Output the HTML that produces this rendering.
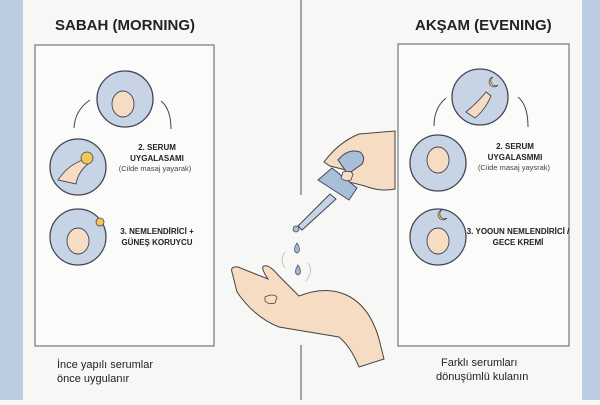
<!DOCTYPE html>
<html><head><style>
body{margin:0;width:600px;height:400px;overflow:hidden;background:#f7f7f6;font-family:"Liberation Sans",sans-serif;}
</style></head><body>
<svg width="600" height="400" viewBox="0 0 600 400" xmlns="http://www.w3.org/2000/svg" font-family="Liberation Sans, sans-serif">
<rect x="0" y="0" width="23" height="400" fill="#bccde2"/>
<rect x="582" y="0" width="18" height="400" fill="#bccde2"/>
<line x1="301" y1="0" x2="301" y2="195" stroke="#888" stroke-width="1.5"/>
<line x1="301" y1="345" x2="301" y2="400" stroke="#888" stroke-width="1.5"/>
<text x="55" y="30" font-size="15" font-weight="bold" fill="#222">SABAH (MORNING)</text>
<text x="415" y="30" font-size="15" font-weight="bold" fill="#222">AKŞAM (EVENING)</text>
<rect x="35" y="45" width="179" height="301" fill="#fbfbfa" stroke="#777" stroke-width="1.2"/>
<rect x="398" y="44" width="171" height="302" fill="#fbfbfa" stroke="#777" stroke-width="1.2"/>
<g fill="#c6d4e6" stroke="#445" stroke-width="1.3">
<circle cx="125" cy="99" r="28"/><circle cx="78" cy="167" r="28"/><circle cx="78" cy="237" r="28"/>
<circle cx="480" cy="97" r="28"/><circle cx="438" cy="163" r="28"/><circle cx="438" cy="237" r="28"/>
</g>
<g fill="#f6dcc2" stroke="#445" stroke-width="0.9">
<ellipse cx="123" cy="104" rx="11" ry="13"/><ellipse cx="78" cy="241" rx="11" ry="13"/>
<ellipse cx="438" cy="160" rx="11" ry="13"/><ellipse cx="438" cy="241" rx="11" ry="13"/>
<path d="M58 180 q10 -15 25 -20 l5 4 q-10 8 -12 20z"/>
<path d="M466 112 q12 -10 20 -20 l5 4 q-6 14 -16 22z"/>
</g>
<circle cx="87" cy="158" r="6" fill="#f2c75a" stroke="#445" stroke-width="0.8"/>
<circle cx="100" cy="222" r="4" fill="#f2c75a" stroke="#445" stroke-width="0.8"/>
<path d="M442 210 a5 5 0 1 0 5 8 a4 4 0 1 1 -5 -8z" fill="#f2c75a" stroke="#445" stroke-width="0.7"/>
<path d="M493 77 a5 5 0 1 0 5 8 a4 4 0 1 1 -5 -8z" fill="#f2c75a" stroke="#445" stroke-width="0.7"/>
<g fill="none" stroke="#444" stroke-width="1">
<path d="M90 100 q-15 10 -16 28"/><path d="M161 101 q10 8 10 28"/>
<path d="M446 98 q-12 10 -12 28"/><path d="M518 97 q10 8 10 30"/>
</g>
<g font-size="8" fill="#222" text-anchor="middle">
<text x="157" y="150" font-weight="bold">2. SERUM</text>
<text x="157" y="161" font-weight="bold">UYGALASAMI</text>
<text x="155" y="171" font-size="7.5" fill="#444">(Cilde masaj yayarak)</text>
<text x="157" y="234" font-weight="bold">3. NEMLENDİRİCİ +</text>
<text x="157" y="245" font-weight="bold">GÜNEŞ KORUYCU</text>
<text x="515" y="149" font-weight="bold">2. SERUM</text>
<text x="515" y="160" font-weight="bold">UYGALASMMI</text>
<text x="514" y="170" font-size="7.5" fill="#444">(Ciide masaj yaysrak)</text>
<text x="518" y="234" font-weight="bold">3. YOOUN NEMLENDİRİCİ /</text>
<text x="518" y="245" font-weight="bold">GECE KREMİ</text>
</g>
<g font-size="11" fill="#222">
<text x="57" y="368">İnce yapılı serumlar</text>
<text x="57" y="382">önce uygulanır</text>
<text x="441" y="366">Farklı serumları</text>
<text x="436" y="380">dönuşümlü kulanın</text>
</g>
<!-- upper hand -->
<path d="M324 162 q15 -20 35 -28 l36 -3 l0 58 q-15 3 -30 -3 l-20 -5 q-5 -8 5 -10 l-20 -5z" fill="#f6dcc2" stroke="#444" stroke-width="1"/>
<path d="M338 160 q10 -12 22 -8 q6 5 2 12 l-14 10z" fill="#a9bfd9" stroke="#445" stroke-width="1"/>
<path d="M318 180 l14 -12 l25 20 l-8 12 z" fill="#a9bfd9" stroke="#445" stroke-width="1"/>
<path d="M343 172 q8 -2 10 2 l-2 6 q-6 2 -10 -2z" fill="#f6dcc2" stroke="#444" stroke-width="0.8"/>
<path d="M330 194 l-32 32 l4 4 l34 -31z" fill="#c6d4e6" stroke="#445" stroke-width="1"/>
<circle cx="296" cy="229" r="3" fill="#a9bfd9" stroke="#445" stroke-width="0.8"/>
<g fill="#9fb8d6" stroke="#556" stroke-width="0.8">
<path d="M297 243 q-5 8 0 10 q5 -2 0 -10z"/><path d="M298 265 q-5 8 0 10 q5 -2 0 -10z"/>
</g>
<path d="M285 252 q-6 8 0 16 M308 263 q6 8 -2 18" fill="none" stroke="#bbb" stroke-width="0.8"/>
<!-- lower hand -->
<path d="M232 272 q-2 -6 6 -5 l30 12 q-8 -12 -4 -13 q5 -2 15 10 l20 20 q25 -10 45 -2 q25 10 35 45 l5 20 l-25 8 q-8 -20 -20 -30 q-30 -5 -60 -10 q-25 -10 -42 -35z" fill="#f6dcc2" stroke="#444" stroke-width="1"/>
<path d="M265 297 q8 -4 12 0 l-2 6 q-6 2 -10 -2z" fill="none" stroke="#444" stroke-width="0.8"/>
</svg>
</body></html>
